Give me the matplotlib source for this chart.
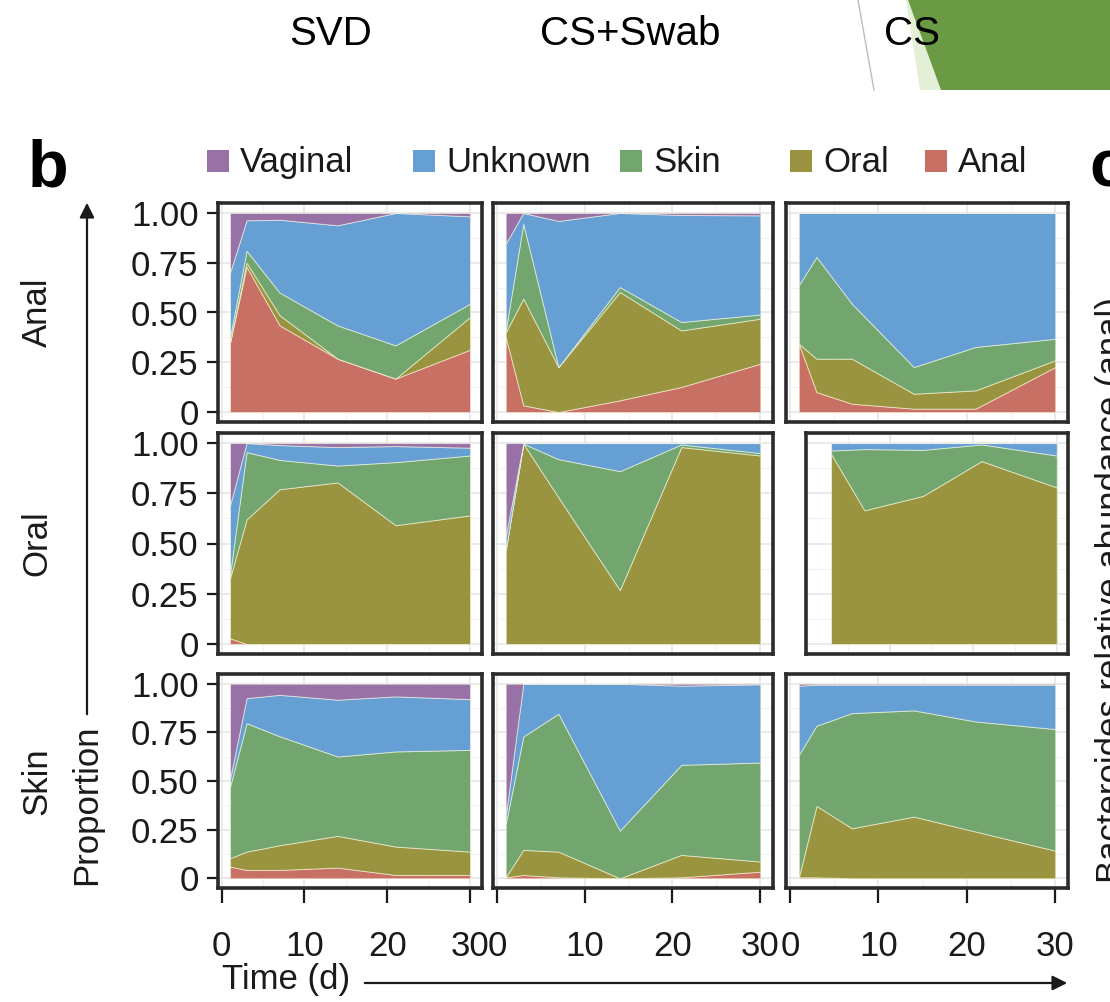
import matplotlib
matplotlib.use('Agg')
import matplotlib.pyplot as plt
from matplotlib.patches import Polygon, Rectangle

plt.rcParams['font.family'] = ['Liberation Sans', 'DejaVu Sans']

# ---- data -------------------------------------------------------------
days = [1, 3, 7, 14, 21, 30]
days_late = [3, 7, 14, 21, 30]          # oral / CS has no day-1 sample
sites = ['Anal', 'Oral', 'Skin']
groups = ['SVD', 'CS+Swab', 'CS']
sources = ['Anal', 'Oral', 'Skin', 'Unknown', 'Vaginal']   # stacked bottom -> top
legend_order = ['Vaginal', 'Unknown', 'Skin', 'Oral', 'Anal']
source_colors = ['#c97064', '#9a9440', '#73a66e', '#669fd4', '#9872a6']
y_ticks = [0, 0.25, 0.5, 0.75, 1.0]
y_ticklabels = ['0', '0.25', '0.50', '0.75', '1.00']
x_ticks = [0, 10, 20, 30]

# proportions per source, order = sources
anal_svd = [[0.35, 0.73, 0.435, 0.268, 0.168, 0.313],
            [0.0, 0.02, 0.051, 0.0, 0.0, 0.164],
            [0.027, 0.06, 0.114, 0.167, 0.167, 0.067],
            [0.323, 0.153, 0.366, 0.503, 0.665, 0.439],
            [0.30, 0.037, 0.034, 0.062, 0.0, 0.017]]
anal_csswab = [[0.377, 0.034, 0.0, 0.059, 0.126, 0.243],
               [0.023, 0.536, 0.226, 0.544, 0.284, 0.226],
               [0.01, 0.376, 0.0, 0.025, 0.042, 0.021],
               [0.436, 0.054, 0.734, 0.372, 0.538, 0.498],
               [0.154, 0.0, 0.04, 0.0, 0.01, 0.012]]
anal_cs = [[0.343, 0.10, 0.042, 0.017, 0.017, 0.226],
           [0.0, 0.168, 0.226, 0.075, 0.092, 0.034],
           [0.294, 0.511, 0.276, 0.134, 0.218, 0.108],
           [0.363, 0.221, 0.456, 0.774, 0.673, 0.632],
           [0.0, 0.0, 0.0, 0.0, 0.0, 0.0]]
oral_svd = [[0.028, 0.0, 0.0, 0.0, 0.0, 0.0],
            [0.299, 0.62, 0.77, 0.804, 0.591, 0.64],
            [0.018, 0.335, 0.146, 0.084, 0.314, 0.298],
            [0.345, 0.045, 0.074, 0.092, 0.08, 0.039],
            [0.31, 0.0, 0.01, 0.02, 0.015, 0.023]]
oral_csswab = [[0.0, 0.0, 0.0, 0.0, 0.0, 0.0],
               [0.469, 0.997, 0.73, 0.268, 0.98, 0.938],
               [0.0, 0.0, 0.19, 0.592, 0.013, 0.012],
               [0.067, 0.003, 0.08, 0.14, 0.007, 0.05],
               [0.464, 0.0, 0.0, 0.0, 0.0, 0.0]]
oral_cs = [[0.0, 0.0, 0.0, 0.0, 0.0],
           [0.946, 0.665, 0.737, 0.91, 0.779],
           [0.017, 0.305, 0.229, 0.083, 0.159],
           [0.037, 0.03, 0.034, 0.007, 0.062],
           [0.0, 0.0, 0.0, 0.0, 0.0]]
skin_svd = [[0.06, 0.043, 0.043, 0.055, 0.017, 0.017],
            [0.043, 0.094, 0.127, 0.163, 0.146, 0.12],
            [0.367, 0.66, 0.56, 0.408, 0.489, 0.523],
            [0.04, 0.129, 0.213, 0.292, 0.283, 0.261],
            [0.49, 0.074, 0.057, 0.082, 0.065, 0.079]]
skin_csswab = [[0.005, 0.017, 0.005, 0.0, 0.005, 0.034],
               [0.0, 0.129, 0.132, 0.0, 0.115, 0.052],
               [0.275, 0.583, 0.709, 0.245, 0.463, 0.509],
               [0.04, 0.271, 0.154, 0.755, 0.407, 0.402],
               [0.68, 0.0, 0.0, 0.0, 0.01, 0.003]]
skin_cs = [[0.005, 0.005, 0.0, 0.0, 0.0, 0.0],
           [0.0, 0.367, 0.257, 0.317, 0.24, 0.142],
           [0.63, 0.412, 0.592, 0.546, 0.566, 0.625],
           [0.355, 0.211, 0.146, 0.132, 0.189, 0.228],
           [0.01, 0.005, 0.005, 0.005, 0.005, 0.005]]

panels = [[(days, anal_svd), (days, anal_csswab), (days, anal_cs)],
          [(days, oral_svd), (days, oral_csswab), (days_late, oral_cs)],
          [(days, skin_svd), (days, skin_csswab), (days, skin_cs)]]

# ---- layout (pixels) -------------------------------------------------
W, H = 1110, 1002
col_px = [(218, 482), (493, 773), (786, 1068)]
row_px = [(203, 422), (433, 654), (674, 888)]
ink = '#1a1a1a'
fs = 25

fig = plt.figure(figsize=(W / 100, H / 100), dpi=100)
bg = fig.add_axes([0, 0, 1, 1])
bg.set_xlim(0, W)
bg.set_ylim(H, 0)
bg.axis('off')

# slide header
for name, xc in zip(groups, [331, 630, 912]):
    bg.text(xc, 34, name, ha='center', va='center', fontsize=29, color='black')
bg.plot([858, 874], [0, 90], color='#bdbdbd', lw=1)
bg.add_patch(Polygon([(906, 0), (908, 0), (941, 90), (920, 90)],
                     closed=True, color='#e3efd6', lw=0))
bg.add_patch(Polygon([(908, 0), (W, 0), (W, 90), (941, 90)],
                     closed=True, color='#6a9a44', lw=0))

# panel letters
bg.text(28, 186, 'b', fontsize=48, fontweight='bold', color='black')
bg.text(1089, 186, 'c', fontsize=48, fontweight='bold', color='black')

# legend
leg_x = [207, 413, 620, 790, 925]
for name, x in zip(legend_order, leg_x):
    c = source_colors[sources.index(name)]
    bg.add_patch(Rectangle((x, 150), 22, 22, color=c, lw=0))
    bg.text(x + 33, 162, name, fontsize=fs, va='center', ha='left', color=ink)

# facet row labels
for name, (y0, y1) in zip(sites, row_px):
    bg.text(37, (y0 + y1) / 2, name, rotation=90, fontsize=fs,
            ha='center', va='center', color=ink)

# axis arrows and titles
bg.annotate('', xy=(87, 200), xytext=(87, 717),
            arrowprops=dict(arrowstyle='-|>', lw=1.6, color=ink, mutation_scale=22))
bg.text(87, 805, 'Proportion', rotation=90, fontsize=fs, ha='center',
        va='center', color=ink)
bg.text(222, 980, 'Time (d)', fontsize=fs, ha='left', va='center', color=ink)
bg.annotate('', xy=(1070, 983), xytext=(362, 983),
            arrowprops=dict(arrowstyle='-|>', lw=1.6, color=ink, mutation_scale=22))

# clipped label of the neighbouring panel
bg.text(1095, 297, 'Bacteroides relative abundance (anal)', rotation=90,
        fontsize=fs, ha='left', va='top', color=ink)

# ---- facets ------------------------------------------------------------
for i in range(3):
    for j in range(3):
        x0, x1 = col_px[j]
        y0, y1 = row_px[i]
        t, vals = panels[i][j]
        if t[0] > 1:
            x0 = 806
            xlim = (t[0] - 0.05 * (t[-1] - t[0]), t[-1] + 0.05 * (t[-1] - t[0]))
        else:
            xlim = (-0.45, 31.45)
        ax = fig.add_axes([x0 / W, 1 - y1 / H, (x1 - x0) / W, (y1 - y0) / H])
        ax.stackplot(t, vals, colors=source_colors, edgecolor=(1, 1, 0.9, 0.55),
                     linewidth=0.7)
        ax.set_xlim(*xlim)
        ax.set_ylim(-0.05, 1.05)
        ax.set_xticks(x_ticks)
        ax.set_xticks([5, 15, 25], minor=True)
        ax.set_yticks(y_ticks)
        ax.set_yticks([0.125, 0.375, 0.625, 0.875], minor=True)
        ax.set_axisbelow(True)
        ax.grid(which='major', color='#e6e6e6', lw=1.2)
        ax.grid(which='minor', color='#f2f2f2', lw=0.8)
        ax.tick_params(which='minor', length=0)
        for sp in ax.spines.values():
            sp.set_linewidth(2.6)
            sp.set_color('#2b2b2b')
        if j == 0:
            ax.set_yticklabels(y_ticklabels)
            ax.tick_params(axis='y', length=8, width=1.6, color=ink, pad=6,
                           labelsize=fs, labelcolor=ink)
        else:
            ax.tick_params(axis='y', length=0, labelleft=False)
        if i == 2:
            ax.set_xticklabels([str(v) for v in x_ticks])
            ax.tick_params(axis='x', length=11, width=1.6, color=ink, pad=19,
                           labelsize=fs, labelcolor=ink)
        else:
            ax.tick_params(axis='x', length=0, labelbottom=False)

fig.savefig('out.png', dpi=100)
